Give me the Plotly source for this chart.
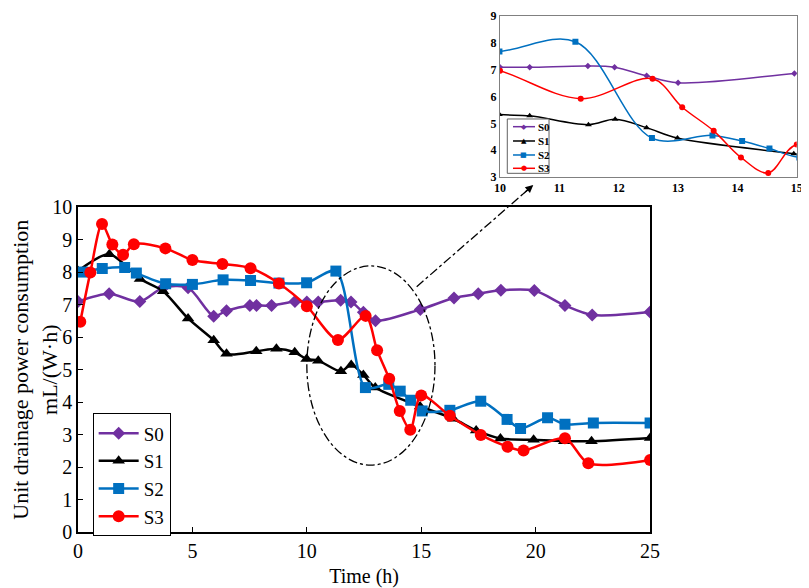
import plotly.graph_objects as go

# ---------------- data ----------------
s0_x = [0, 1.36, 2.70, 3.72, 4.81, 5.93, 6.49, 7.51, 7.80, 8.46, 9.48, 10.0, 10.5,
        11.48, 11.93, 12.47, 13.0, 14.96, 16.43, 17.49, 18.48, 19.94, 21.28, 22.47, 25]
s0_y = [7.10, 7.34, 7.10, 7.53, 7.53, 6.65, 6.82, 6.98, 6.98, 6.98, 7.10, 7.09, 7.09,
        7.14, 7.09, 6.77, 6.51, 6.86, 7.21, 7.34, 7.45, 7.44, 6.98, 6.69, 6.78]

s1_x = [0, 1.37, 2.71, 3.72, 4.81, 5.93, 6.49, 7.79, 8.67, 9.47, 9.99, 10.5, 11.49,
        11.94, 12.47, 12.99, 14.95, 16.4, 17.40, 18.46, 19.91, 21.25, 22.44, 25]
s1_y = [8.04, 8.56, 7.80, 7.42, 6.58, 5.91, 5.49, 5.57, 5.65, 5.54, 5.33, 5.28, 4.95,
        5.15, 4.84, 4.45, 3.87, 3.49, 3.13, 2.88, 2.84, 2.80, 2.80, 2.90]

s2_x = [0.2, 1.06, 2.04, 2.55, 3.83, 5.0, 6.34, 7.54, 8.78, 9.99, 11.27, 12.56, 13.58,
        14.08, 14.54, 15.04, 16.25, 17.6, 18.75, 19.34, 20.52, 21.28, 22.52, 25]
s2_y = [8.01, 8.12, 8.15, 7.98, 7.65, 7.63, 7.77, 7.75, 7.67, 7.68, 8.04, 4.45, 4.55,
        4.34, 4.06, 3.73, 3.75, 4.03, 3.47, 3.19, 3.52, 3.32, 3.36, 3.36]

s3_x = [0.1, 0.54, 1.05, 1.5, 1.97, 2.44, 3.82, 5.0, 6.31, 7.54, 8.78, 10.0, 11.36,
        12.57, 13.07, 13.6, 14.06, 14.52, 15.0, 16.25, 17.6, 18.77, 19.47, 21.28, 22.3, 25]
s3_y = [6.48, 8.0, 9.49, 8.86, 8.54, 8.87, 8.74, 8.38, 8.26, 8.13, 7.66, 6.96, 5.92,
        6.66, 5.60, 4.72, 3.73, 3.15, 4.21, 3.58, 2.99, 2.63, 2.51, 2.89, 2.12, 2.22]

series_names = ["S0", "S1", "S2", "S3"]
series_x = [s0_x, s1_x, s2_x, s3_x]
series_y = [s0_y, s1_y, s2_y, s3_y]

colours = ["#7030A0", "#000000", "#0070C0", "#FF0000"]
symbols = ["diamond", "triangle-up", "square", "circle"]
glyphs = ["◆", "▲", "■", "●"]
main_sizes = [10, 11, 11, 12]
inset_sizes = [5, 6, 6, 6]

# zoomed window shown in the inset
zoom_x = [10, 15]
zoom_y = [3, 9]

fig = go.Figure()

# courbes principales
for i in range(4):
    fig.add_trace(go.Scatter(
        x=series_x[i], y=series_y[i], name=series_names[i],
        mode="lines+markers",
        line=dict(color=colours[i], width=2.5, shape="spline", smoothing=0.8),
        marker=dict(symbol=symbols[i], size=main_sizes[i], color=colours[i]),
        xaxis="x", yaxis="y"
    ))

# courbes de l'encart (zoom 10-15 h)
for i in range(4):
    fig.add_trace(go.Scatter(
        x=series_x[i], y=series_y[i], name=series_names[i],
        mode="lines+markers", showlegend=False,
        line=dict(color=colours[i], width=1.5, shape="spline", smoothing=1.0),
        marker=dict(symbol=symbols[i], size=inset_sizes[i], color=colours[i]),
        xaxis="x2", yaxis="y2"
    ))

serif = "Liberation Serif, Times New Roman, serif"

# ellipse autour de la zone zoomée
fig.add_shape(type="circle", xref="x", yref="y", x0=10.0, x1=15.6, y0=2.06, y1=8.2,
              line=dict(color="black", width=1.3, dash="dashdot"))

# ligne vers l'encart
fig.add_shape(type="line", xref="paper", yref="paper",
              x0=0.4665, y0=0.4681, x1=0.6271, y1=0.6622,
              line=dict(color="black", width=1.3, dash="dashdot"))
fig.add_annotation(xref="paper", yref="paper", x=0.6271, y=0.6622,
                   ax=-11.7, ay=10.2, axref="pixel", ayref="pixel",
                   showarrow=True, arrowhead=2, arrowsize=1.2, arrowwidth=1.3,
                   arrowcolor="black", text="")

# petite légende de l'encart (plus compacte que la légende plotly)
leg_x0, leg_x1 = 0.5913, 0.6488
leg_y0, leg_y1 = 0.6845, 0.7882
row_y = [0.7735, 0.7462, 0.7195, 0.6941]
fig.add_shape(type="rect", xref="paper", yref="paper", layer="above",
              x0=leg_x0, x1=leg_x1, y0=leg_y0, y1=leg_y1,
              line=dict(color="#606060", width=1), fillcolor="white")
for i in range(4):
    fig.add_shape(type="line", xref="paper", yref="paper", layer="above",
                  x0=0.5992, x1=0.6295, y0=row_y[i], y1=row_y[i],
                  line=dict(color=colours[i], width=1.5))
    fig.add_annotation(xref="paper", yref="paper", x=0.6143, y=row_y[i],
                       text=glyphs[i], showarrow=False,
                       font=dict(family="DejaVu Sans", size=7, color=colours[i]),
                       xanchor="center", yanchor="middle")
    fig.add_annotation(xref="paper", yref="paper", x=0.6315, y=row_y[i],
                       text=series_names[i], showarrow=False,
                       font=dict(family=serif, size=11, color="black", weight="bold"),
                       xanchor="left", yanchor="middle")

# la page html ajoute 8 px de marge autour du graphique -> 801 x 580
fig.update_layout(
    width=801, height=580,
    margin=dict(l=70, r=5, t=0, b=56, autoexpand=False),
    paper_bgcolor="white", plot_bgcolor="white",
    font=dict(family=serif, size=20, color="black"),
    xaxis=dict(
        domain=[0, 0.788], range=[0, 25], dtick=5, automargin=False,
        showline=True, linecolor="black", linewidth=1.5, mirror=True,
        ticks="inside", ticklen=5, tickcolor="black", showgrid=False, zeroline=False,
        title=dict(text="Time (h)", font=dict(size=20), standoff=8),
        tickfont=dict(size=20)
    ),
    yaxis=dict(
        domain=[0, 0.6193], range=[0, 10], dtick=1, automargin=False,
        showline=True, linecolor="black", linewidth=1.5, mirror=True,
        ticks="inside", ticklen=5, tickcolor="black", showgrid=False, zeroline=False,
        title=dict(text="Unit drainage power consumption<br>mL/(W·h)",
                   font=dict(size=22), standoff=16),
        tickfont=dict(size=20)
    ),
    xaxis2=dict(
        domain=[0.5813, 0.99], range=zoom_x, dtick=1, anchor="y2", automargin=False,
        showline=True, linecolor="#808080", linewidth=1.2, mirror=True,
        ticks="", showgrid=False, zeroline=False, ticklabeloverflow="allow",
        tickfont=dict(size=12, family=serif, weight="bold")
    ),
    yaxis2=dict(
        domain=[0.6775, 0.9847], range=zoom_y, dtick=1, anchor="x2", automargin=False,
        showline=True, linecolor="#808080", linewidth=1.2, mirror=True,
        ticks="", showgrid=False, zeroline=False, ticklabeloverflow="allow",
        tickfont=dict(size=12, family=serif, weight="bold")
    ),
    legend=dict(
        x=0.0202, y=0.2265, xanchor="left", yanchor="top",
        bordercolor="black", borderwidth=1, bgcolor="white",
        font=dict(size=19), itemwidth=40, tracegroupgap=0
    ),
    showlegend=True
)

fig.write_html("out.html")
